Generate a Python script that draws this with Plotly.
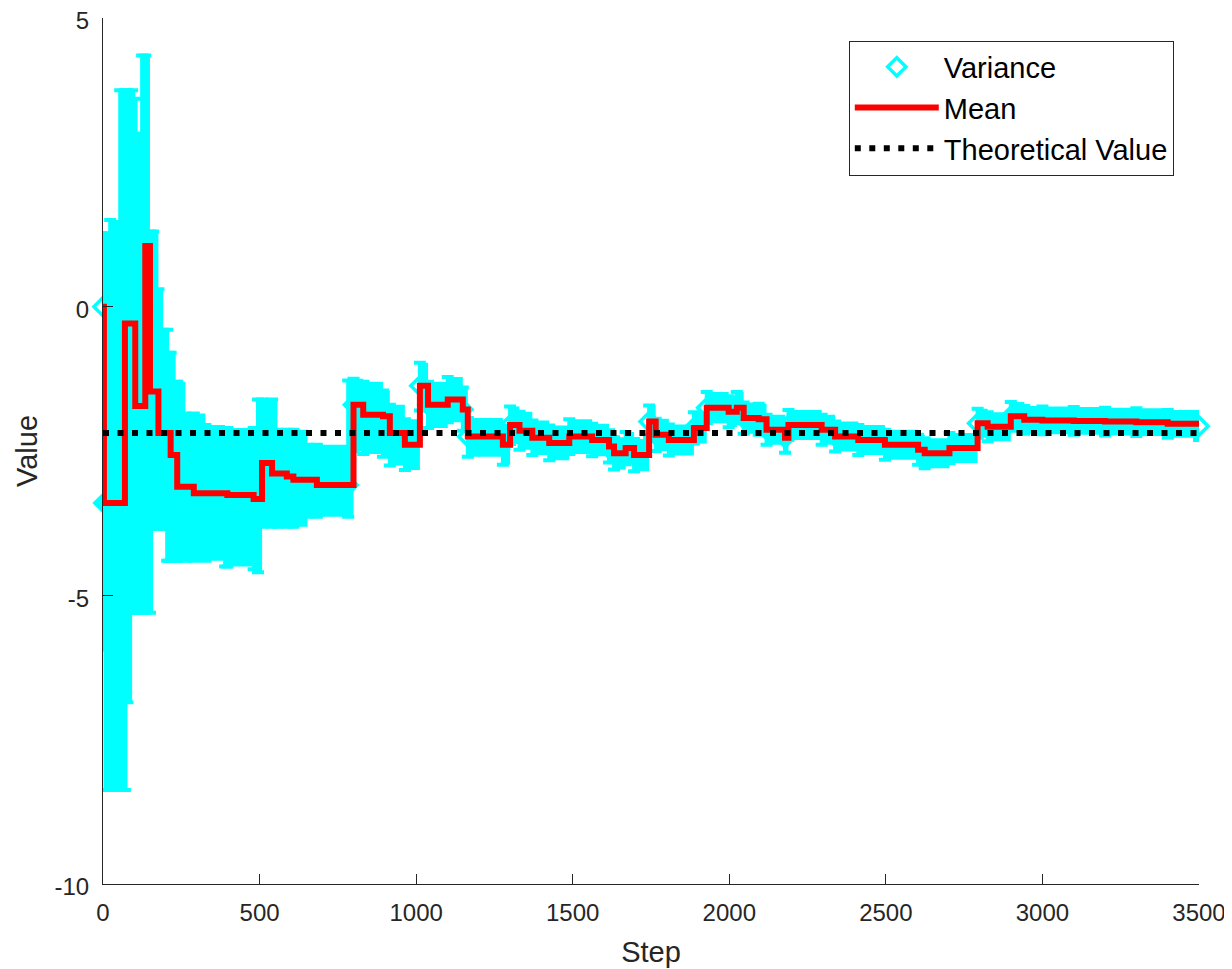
import plotly.graph_objects as go

# ---- data ----
steps = [0, 3, 8, 23, 55, 70, 78, 93, 103, 110, 125, 135, 150, 160, 177, 192, 205,
         210, 216, 232, 237, 263, 290, 327, 390, 397, 481, 495, 508, 540, 557,
         587, 608, 653, 683, 783,
         800, 831, 894, 916, 964, 1012, 1038, 1101, 1149,
         1165, 1277, 1300, 1330, 1371, 1425, 1489, 1562, 1616, 1632, 1669, 1696,
         1744, 1765, 1807, 1887, 1928, 1998, 2024, 2046, 2094, 2119, 2178, 2189,
         2295, 2338, 2412, 2497, 2603, 2624, 2703, 2793, 2825, 2899, 2942, 3000,
         3100, 3200, 3300, 3400, 3500]
mean_vals = [0.00, -3.40, -3.40, -3.40, -3.40, -0.29, -0.29, -0.29, -1.72, -1.72,
             -1.72, 1.05, -1.47, -1.47, -2.19, -2.19, -2.19,
             -2.19, -2.57, -2.57, -3.12, -3.12, -3.23, -3.23, -3.23, -3.26, -3.33,
             -3.33, -2.71, -2.89, -2.89,
             -2.94, -3.00, -3.00, -3.09, -3.09,
             -1.70, -1.87, -1.90, -2.19, -2.39, -1.37, -1.70, -1.61, -1.78,
             -2.25, -2.39, -2.05, -2.15, -2.27, -2.36, -2.25, -2.31, -2.42, -2.54,
             -2.45, -2.57,
             -1.99, -2.22, -2.31, -2.10, -1.75, -1.82, -1.75, -1.93, -1.95, -2.13,
             -2.27, -2.05,
             -2.13, -2.25, -2.31, -2.39, -2.48, -2.54, -2.45, -2.02, -2.08, -1.90,
             -1.96, -1.97,
             -1.98, -1.99, -2.00, -2.03, -2.07]
variance_upper = [0.30, 1.27, 1.27, 1.50, 3.75, 3.75, 3.75, 3.75, 3.60, 3.00,
                  4.35, 4.35, 1.30, 1.30, 0.30, -0.40, -0.40,
                  -0.80, -0.80, -1.30, -1.30, -1.85, -1.85, -2.05, -2.10, -2.10, -2.10,
                  -1.61, -1.61, -1.61, -2.13,
                  -2.13, -2.13, -2.39, -2.39, -1.28,
                  -1.25, -1.30, -1.45, -1.70, -1.95, -0.97, -1.30, -1.22, -1.40,
                  -1.93, -2.06, -1.73, -1.82, -1.97, -2.06, -1.95, -2.03, -2.14, -2.26,
                  -2.17, -2.29,
                  -1.71, -1.94, -2.04, -1.83, -1.48, -1.55, -1.48, -1.66, -1.68, -1.87,
                  -2.01, -1.79,
                  -1.87, -1.99, -2.05, -2.13, -2.22, -2.28, -2.19, -1.77, -1.83, -1.65,
                  -1.72, -1.73,
                  -1.74, -1.75, -1.76, -1.79, -1.83]
variance_lower = [-0.30, -5.94, -8.37, -8.37, -8.37, -8.37, -6.85, -5.30, -5.30, -5.30,
                  -5.30, -5.30, -5.30, -3.85, -3.85, -3.85, -4.40,
                  -4.40, -4.40, -4.40, -4.40, -4.40, -4.40, -4.40, -4.50, -4.50, -4.55,
                  -4.60, -3.81, -3.81, -3.81,
                  -3.81, -3.81, -3.64, -3.64, -3.64,
                  -2.50, -2.55, -2.60, -2.75, -2.83, -1.80, -2.10, -2.00, -2.15,
                  -2.60, -2.74, -2.38, -2.48, -2.57, -2.66, -2.55, -2.59, -2.70, -2.82,
                  -2.73, -2.85,
                  -2.27, -2.50, -2.58, -2.37, -2.02, -2.09, -2.02, -2.20, -2.22, -2.39,
                  -2.53, -2.31,
                  -2.39, -2.51, -2.57, -2.65, -2.74, -2.80, -2.71, -2.27, -2.33, -2.15,
                  -2.20, -2.21,
                  -2.22, -2.23, -2.24, -2.27, -2.31]
theoretical_value = -2.19

x_ticks = [0, 500, 1000, 1500, 2000, 2500, 3000, 3500]
y_ticks = [-10, -5, 0, 5]
y_tick_labels = ["-10", "-5", "0", "5"]

err_plus = [u - m for u, m in zip(variance_upper, mean_vals)]
err_minus = [m - l for m, l in zip(mean_vals, variance_lower)]

CYAN = "#00FFFF"
AX = "#262626"
FONT = "Liberation Sans, Arial, Helvetica, sans-serif"

fig = go.Figure()
fig.add_trace(go.Scatter(x=steps, y=variance_lower, mode="lines",
                         line=dict(width=0, shape="hv", color=CYAN),
                         showlegend=False, hoverinfo="skip"))
fig.add_trace(go.Scatter(x=steps, y=variance_upper, mode="lines",
                         line=dict(width=0, shape="hv", color=CYAN),
                         fill="tonexty", fillcolor=CYAN,
                         showlegend=False, hoverinfo="skip"))
fig.add_trace(go.Scatter(x=steps, y=mean_vals, mode="markers", name="Variance",
                         marker=dict(symbol="diamond-open", size=14, color=CYAN,
                                     line=dict(width=3.5, color=CYAN)),
                         error_y=dict(type="data", symmetric=False, array=err_plus,
                                      arrayminus=err_minus, color=CYAN,
                                      thickness=4, width=6),
                         cliponaxis=False))
fig.add_trace(go.Scatter(x=steps, y=mean_vals, mode="lines", name="Mean",
                         line=dict(color="#FF0000", width=6, shape="hv")))
fig.add_trace(go.Scatter(x=[x_ticks[0], x_ticks[-1]],
                         y=[theoretical_value, theoretical_value],
                         mode="lines", name="Theoretical Value",
                         line=dict(color="black", width=6, dash="6px,8.5px")))

fig.update_layout(
    width=1224, height=961,
    margin=dict(l=95, r=33, t=10, b=85, autoexpand=False),
    paper_bgcolor="white", plot_bgcolor="white",
    font=dict(family=FONT, color=AX, size=24),
    showlegend=True,
    legend=dict(x=0.977, y=0.974, xanchor="right", yanchor="top",
                traceorder="normal",
                bgcolor="white", bordercolor=AX, borderwidth=1,
                font=dict(size=29, color="black", family=FONT),
                tracegroupgap=0, itemwidth=84),
    xaxis=dict(range=[0, 3500], tickvals=x_ticks, ticks="inside", ticklen=10,
               tickcolor=AX, showline=True, linecolor=AX, linewidth=1,
               showgrid=False, zeroline=False, mirror=False, automargin=False,
               ticklabelstandoff=7, ticklabeloverflow="allow",
               tickfont=dict(size=24, color=AX),
               title=dict(text="Step", font=dict(size=29, color=AX), standoff=16)),
    yaxis=dict(range=[-10, 5], tickvals=y_ticks, ticktext=y_tick_labels,
               ticks="inside", ticklen=10,
               tickcolor=AX, showline=True, linecolor=AX, linewidth=1,
               showgrid=False, zeroline=False, mirror=False, automargin=False,
               ticklabelstandoff=8, ticklabeloverflow="allow", ticklabelshift=3,
               tickfont=dict(size=24, color=AX),
               title=dict(text="Value", font=dict(size=29, color=AX), standoff=8)),
)

fig.write_html("out.html")
